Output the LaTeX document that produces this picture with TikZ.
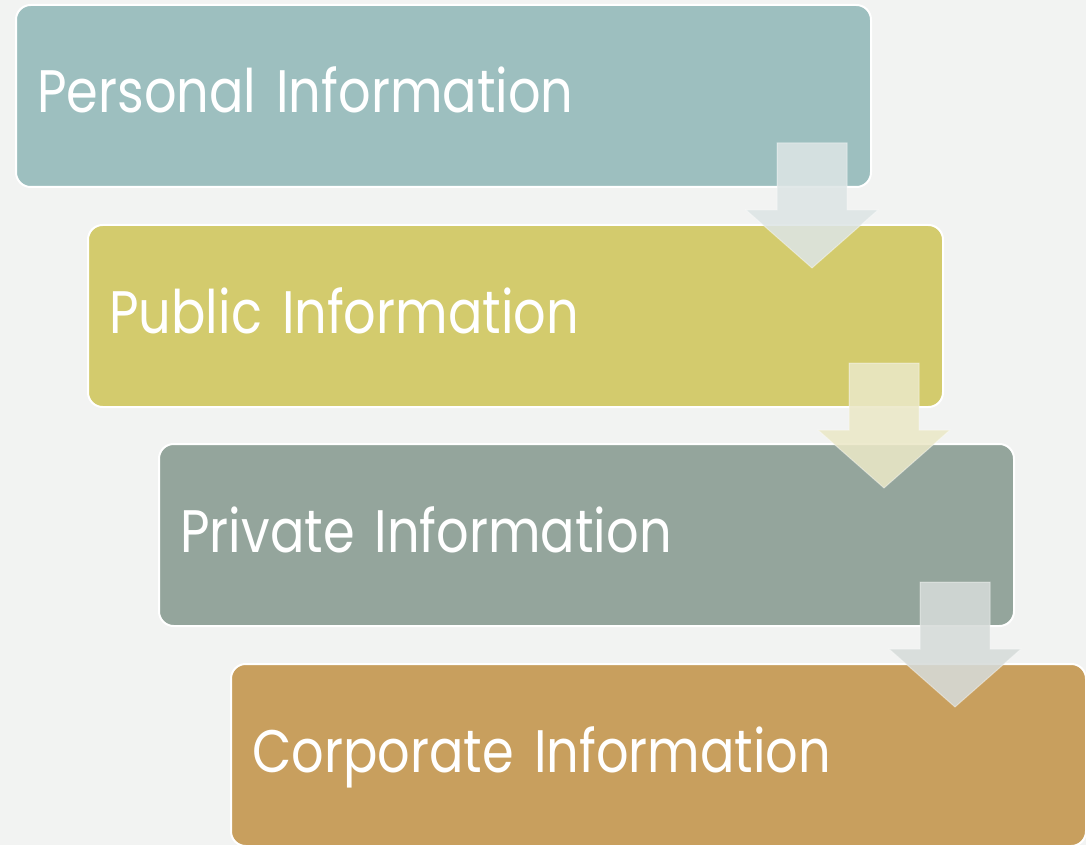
\documentclass[tikz,border=0pt]{standalone}
\usepackage{fontspec}
\setmainfont{Poppins}[FakeStretch=0.85]
\usetikzlibrary{positioning}

\definecolor{pagebg}{HTML}{F2F3F2}
\definecolor{boxteal}{HTML}{9DBFBF}
\definecolor{boxyellow}{HTML}{D3CB6D}
\definecolor{boxgray}{HTML}{94A59C}
\definecolor{boxgold}{HTML}{C89F5E}
\definecolor{arrowteal}{HTML}{DDE5E5}
\definecolor{arrowyellow}{HTML}{EBE8C7}
\definecolor{arrowgray}{HTML}{D6DBD9}

\begin{document}
\begin{tikzpicture}[x=0.75pt, y=-0.75pt,
                infobox/.style={draw=white, line width=1.5pt, rounded corners=11pt,
                                outer sep=0pt,
                                minimum width=641.25pt, minimum height=136.5pt,
                                inner xsep=16pt, text width=609.25pt, align=left,
                                text height=33pt, text depth=7.5pt,
                                font=\fontsize{45}{50}\selectfont, text=white,
                                anchor=north west},
                blockarrow/.style={draw=white, draw opacity=0.4, line width=0.75pt,
                                   fill opacity=0.87}]

                % Background and page size
                \path[fill=pagebg, use as bounding box] (0,0) rectangle (1086,845);

                % Staircase of boxes
                \node[infobox, fill=boxteal] (personal) at (16,5) {Personal Information};
                \node[infobox, fill=boxyellow] (public) at ([shift={(72,38)}]personal.south west) {Public Information};
                \node[infobox, fill=boxgray] (private) at ([shift={(71,37)}]public.south west) {Private Information};
                \node[infobox, fill=boxgold] (corporate) at ([shift={(72,38)}]private.south west) {Corporate Information};

                % Down arrows between the steps
                \foreach \src/\col in {personal/arrowteal, public/arrowyellow, private/arrowgray}
                    \draw[blockarrow, fill=\col] ([shift={(-94,-44)}]\src.south east)
                        -- ++(70,0) -- ++(0,67) -- ++(31,0) -- ++(-66,58)
                        -- ++(-66,-58) -- ++(31,0) -- cycle;
\end{tikzpicture}
\end{document}
